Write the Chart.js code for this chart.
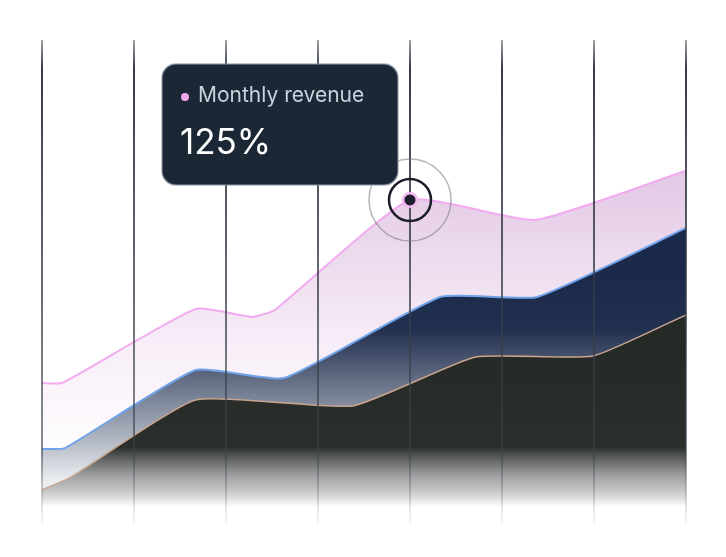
<!DOCTYPE html>
<html><head><meta charset="utf-8">
<script src="https://cdn.jsdelivr.net/npm/chart.js@4.4.1/dist/chart.umd.min.js"></script>
<style>html,body{margin:0;padding:0;background:#fff}#wrap{width:726px;height:557px}</style>
</head><body><div id="wrap"><canvas id="c"></canvas></div>
<script>
const categories = [0,1,2,3,4,5,6,7];
const revenueX = [0,0.22,1.67,2.28,2.53,4,5.36,7];
const revenueY = [54.6,54.6,83.1,80.0,82.7,125,117.3,136.2];
const middleX = [0,0.25,1.67,2.63,4.33,5.38,7];
const middleY = [29.2,29.6,59.6,56.5,87.7,87.7,114.2];
const lowerX = [0,0.3,1.67,3.38,4.71,5.99,7];
const lowerY = [13.5,18.1,48.1,45.8,64.6,65.0,80.8];
const seriesName = 'Monthly revenue';
const highlightIndex = 5;

const pts = (xs, ys) => xs.map((x,i)=>({x, y: ys[i]}));

function grad(stops){
  return (ctx)=>{
    const ch = ctx.chart, a = ch.chartArea;
    if(!a) return stops[0][1];
    const y = ch.scales.y;
    const g = ch.ctx.createLinearGradient(0, y.getPixelForValue(stops[0][0]), 0, y.getPixelForValue(stops[stops.length-1][0]));
    const v0 = stops[0][0], v1 = stops[stops.length-1][0];
    stops.forEach(s=>g.addColorStop((s[0]-v0)/(v1-v0), s[1]));
    return g;
  };
}

const markerPlugin = {
  id:'marker',
  afterDraw(chart){
    const ctx = chart.ctx;
    const p = chart.getDatasetMeta(2).data[highlightIndex];
    const x = p.x, y = p.y;
    ctx.save();
    ctx.beginPath(); ctx.arc(x,y,41,0,Math.PI*2); ctx.strokeStyle='rgba(120,120,130,0.55)'; ctx.lineWidth=1.5; ctx.stroke();
    ctx.beginPath(); ctx.arc(x,y,21,0,Math.PI*2); ctx.strokeStyle='#1c1c28'; ctx.lineWidth=2.5; ctx.stroke();
    ctx.beginPath(); ctx.arc(x,y,8,0,Math.PI*2); ctx.fillStyle='#f3b6f0'; ctx.fill();
    ctx.beginPath(); ctx.arc(x,y,5.5,0,Math.PI*2); ctx.fillStyle='#1b1f2e'; ctx.fill();
    const bx=162, by=64, bw=236, bh=121, r=14;
    ctx.beginPath(); ctx.roundRect(bx,by,bw,bh,r);
    ctx.fillStyle='#1b2735'; ctx.fill();
    ctx.strokeStyle='rgba(140,150,165,0.7)'; ctx.lineWidth=1.5; ctx.stroke();
    ctx.beginPath(); ctx.arc(185,97,4,0,Math.PI*2); ctx.fillStyle='#f3a8ee'; ctx.fill();
    ctx.fillStyle='#c9d1dc'; ctx.font='21px Inter, sans-serif'; ctx.textBaseline='middle';
    ctx.fillText(seriesName, 198, 96);
    ctx.fillStyle='#ffffff'; ctx.font='35px Inter, sans-serif';
    ctx.fillText(Math.round(revenueY[highlightIndex])+'%', 180, 143);
    ctx.restore();
  }
};

new Chart(document.getElementById('c'), {
  type:'line',
  data:{datasets:[
    {label:'lower', data:pts(lowerX,lowerY), borderColor:'#c9a48e', borderWidth:1.5, fill:'origin',
     backgroundColor:grad([[65,'#262a26'],[30,'#2b2f2b'],[18,'rgba(140,140,140,0.7)'],[7,'rgba(255,255,255,1)']]), order:1},
    {label:'middle', data:pts(middleX,middleY), borderColor:'#6fa3ea', borderWidth:2, fill:'origin',
     backgroundColor:grad([[95,'#1b2a4b'],[75,'#22304f'],[35,'#a9b0bd'],[18,'#e8eaee'],[5,'rgba(255,255,255,1)']]), order:2},
    {label:seriesName, data:pts(revenueX,revenueY), borderColor:'#f2aaf0', borderWidth:2, fill:'origin',
     backgroundColor:grad([[130,'rgba(226,200,228,0.95)'],[60,'rgba(248,238,248,0.8)'],[25,'rgba(255,255,255,0.9)']]), order:3}
  ]},
  options:{
    responsive:true, maintainAspectRatio:false, animation:false,
    layout:{padding:{left:42,right:40,top:40,bottom:32}},
    elements:{point:{radius:0,hoverRadius:0}, line:{tension:0.15}},
    plugins:{legend:{display:false}, tooltip:{enabled:false}},
    scales:{
      x:{type:'linear', min:categories[0], max:categories[categories.length-1], display:true,
         afterBuildTicks:(s)=>{s.ticks=categories.map(v=>({value:v}));},
         ticks:{display:false}, border:{display:false},
         grid:{z:1, drawTicks:false, lineWidth:2, color:(ctx)=>{
           const ch=ctx.chart, a=ch.chartArea; if(!a) return '#2a3340';
           const g=ch.ctx.createLinearGradient(0,a.top,0,a.bottom);
           g.addColorStop(0,'rgba(42,50,62,0.45)'); g.addColorStop(0.06,'rgba(42,50,62,0.95)');
           g.addColorStop(0.85,'rgba(60,66,76,0.6)'); g.addColorStop(1,'rgba(120,120,130,0.05)');
           return g;}}},
      y:{min:0, max:186.5, display:false}
    }
  },
  plugins:[markerPlugin]
});
</script></body></html>
